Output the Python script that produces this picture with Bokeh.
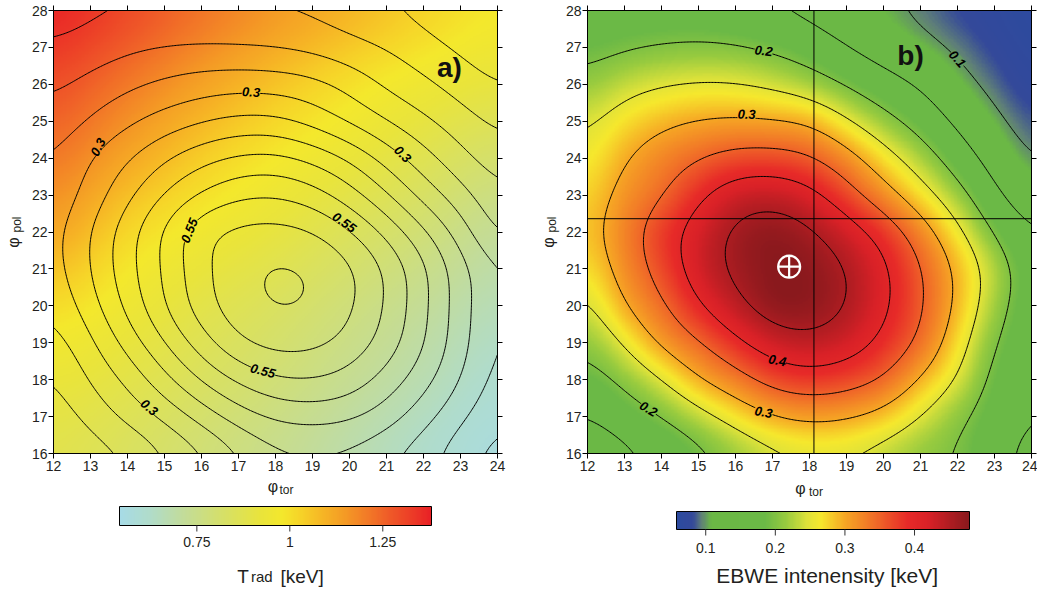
import numpy as np
from bokeh.plotting import figure
from bokeh.models import LinearColorMapper, Label, Span, LinearAxis, FixedTicker, Range1d
from bokeh.core.properties import value
from bokeh.layouts import row, column
from bokeh.embed import file_html
from bokeh.resources import INLINE

# ------------------------------------------------------------------ data
# node coordinates of the value grids (rows are listed from top y=28 to bottom y=16)
GRID_X = [12, 13, 14, 15, 16, 17, 18, 19, 20, 21, 22, 23, 24]
GRID_Y = [28, 27, 26, 25, 24, 23, 22, 21, 20, 19, 18, 17, 16]

# panel a) colour field: T_rad [keV] (coarse 2-unit grid)
TRAD_X = [12, 14, 16, 18, 20, 22, 24]
TRAD_Y = [28, 26, 24, 22, 20, 18, 16]
TRAD = [
    [1.37, 1.30, 1.22, 1.15, 1.09, 1.03, 0.98],
    [1.29, 1.21, 1.13, 1.06, 1.00, 0.95, 0.91],
    [1.21, 1.12, 1.04, 0.98, 0.93, 0.87, 0.81],
    [1.12, 1.02, 0.96, 0.91, 0.85, 0.79, 0.72],
    [1.01, 0.95, 0.89, 0.84, 0.78, 0.72, 0.66],
    [0.93, 0.89, 0.84, 0.79, 0.73, 0.67, 0.61],
    [0.88, 0.84, 0.79, 0.74, 0.68, 0.62, 0.57],
]

# panel a) contour field (labelled 0.3 ... 0.55)
CONT_A = [
    [0.125, 0.140, 0.149, 0.151, 0.151, 0.149, 0.146, 0.140, 0.123, 0.103, 0.082, 0.055, 0.030],
    [0.157, 0.172, 0.190, 0.201, 0.205, 0.203, 0.198, 0.185, 0.165, 0.148, 0.120, 0.092, 0.066],
    [0.190, 0.215, 0.240, 0.260, 0.275, 0.282, 0.280, 0.268, 0.235, 0.190, 0.160, 0.128, 0.098],
    [0.220, 0.255, 0.290, 0.320, 0.345, 0.362, 0.360, 0.330, 0.290, 0.250, 0.210, 0.172, 0.138],
    [0.250, 0.300, 0.345, 0.395, 0.435, 0.460, 0.465, 0.440, 0.395, 0.330, 0.270, 0.215, 0.172],
    [0.265, 0.318, 0.388, 0.452, 0.505, 0.540, 0.546, 0.522, 0.472, 0.405, 0.330, 0.270, 0.210],
    [0.278, 0.352, 0.430, 0.510, 0.592, 0.615, 0.620, 0.605, 0.557, 0.488, 0.410, 0.327, 0.235],
    [0.275, 0.352, 0.432, 0.507, 0.585, 0.635, 0.658, 0.648, 0.612, 0.545, 0.462, 0.372, 0.297],
    [0.258, 0.330, 0.415, 0.500, 0.580, 0.632, 0.655, 0.648, 0.610, 0.545, 0.462, 0.372, 0.297],
    [0.225, 0.290, 0.370, 0.450, 0.528, 0.595, 0.620, 0.615, 0.585, 0.530, 0.455, 0.370, 0.292],
    [0.195, 0.255, 0.310, 0.385, 0.455, 0.510, 0.545, 0.550, 0.530, 0.480, 0.420, 0.350, 0.278],
    [0.172, 0.215, 0.265, 0.310, 0.370, 0.425, 0.460, 0.470, 0.460, 0.425, 0.370, 0.310, 0.260],
    [0.150, 0.175, 0.200, 0.248, 0.290, 0.345, 0.385, 0.392, 0.385, 0.358, 0.320, 0.270, 0.230],
]

# panel b) EBWE intensity [keV]
EBWE = [
    [0.165, 0.170, 0.172, 0.172, 0.163, 0.149, 0.138, 0.123, 0.106, 0.093, 0.080, 0.070, 0.062],
    [0.185, 0.195, 0.202, 0.205, 0.203, 0.193, 0.175, 0.150, 0.128, 0.110, 0.094, 0.078, 0.066],
    [0.213, 0.235, 0.247, 0.253, 0.251, 0.240, 0.222, 0.195, 0.168, 0.145, 0.112, 0.090, 0.072],
    [0.243, 0.270, 0.290, 0.302, 0.306, 0.303, 0.295, 0.255, 0.215, 0.180, 0.140, 0.107, 0.084],
    [0.260, 0.298, 0.325, 0.348, 0.366, 0.368, 0.356, 0.320, 0.270, 0.225, 0.175, 0.130, 0.097],
    [0.275, 0.315, 0.345, 0.392, 0.428, 0.435, 0.416, 0.370, 0.320, 0.270, 0.218, 0.158, 0.120],
    [0.282, 0.328, 0.378, 0.422, 0.460, 0.474, 0.458, 0.425, 0.383, 0.325, 0.262, 0.195, 0.150],
    [0.268, 0.320, 0.368, 0.425, 0.460, 0.479, 0.475, 0.451, 0.410, 0.353, 0.292, 0.228, 0.170],
    [0.240, 0.300, 0.342, 0.397, 0.440, 0.474, 0.474, 0.452, 0.410, 0.357, 0.292, 0.220, 0.168],
    [0.210, 0.255, 0.310, 0.346, 0.390, 0.428, 0.440, 0.425, 0.390, 0.342, 0.272, 0.200, 0.165],
    [0.180, 0.210, 0.248, 0.298, 0.330, 0.368, 0.382, 0.372, 0.348, 0.295, 0.248, 0.185, 0.158],
    [0.148, 0.175, 0.200, 0.233, 0.268, 0.298, 0.310, 0.304, 0.285, 0.248, 0.210, 0.175, 0.150],
    [0.120, 0.138, 0.162, 0.187, 0.215, 0.238, 0.250, 0.248, 0.232, 0.212, 0.197, 0.165, 0.135],
]

X_TICKS = [12, 13, 14, 15, 16, 17, 18, 19, 20, 21, 22, 23, 24]
Y_TICKS = [16, 17, 18, 19, 20, 21, 22, 23, 24, 25, 26, 27, 28]
LEVELS_A = [0.10, 0.15, 0.20, 0.25, 0.30, 0.35, 0.40, 0.45, 0.50, 0.55, 0.60, 0.65]
LEVELS_B = [0.10, 0.15, 0.20, 0.25, 0.30, 0.35, 0.40, 0.45]
TRAD_LOW, TRAD_HIGH = 0.542, 1.381
EBWE_LOW, EBWE_HIGH = 0.058, 0.479
TRAD_TICKS = [0.75, 1.0, 1.25]
EBWE_TICKS = [0.1, 0.2, 0.3, 0.4]
MAX_B = (17.45, 21.06)          # marked maximum of the EBWE intensity
CROSS_B = (18.12, 22.36)        # cross-hair lines in panel b

# ------------------------------------------------------------------ styles
FONT = "Liberation Sans"
TXT = "#231f20"
STOPS_A = [(0.542, "#a7dbe6"), (0.62, "#b0dccb"), (0.72, "#c4dc96"), (0.82, "#d6e068"),
           (0.92, "#e9e43c"), (0.98, "#f4e82c"), (1.03, "#f6d328"), (1.09, "#f6b525"),
           (1.15, "#f49a25"), (1.21, "#f27a27"), (1.27, "#ef5a28"), (1.33, "#ec3c27"),
           (1.381, "#e92126")]
STOPS_B = [(0.058, "#2c4a9f"), (0.080, "#34499a"), (0.093, "#5f7f78"), (0.107, "#6bb845"),
           (0.185, "#6bb946"), (0.215, "#98cb3f"), (0.245, "#dde23a"), (0.265, "#f6e82d"),
           (0.30, "#f6a724"), (0.345, "#f06a28"), (0.39, "#e72a28"), (0.42, "#d92127"),
           (0.479, "#8a191d")]


def build_palette(stops, n=256):
    vals = np.array([s[0] for s in stops])
    cols = np.array([[int(c[1:3], 16), int(c[3:5], 16), int(c[5:7], 16)] for _, c in stops], float)
    t = np.linspace(vals[0], vals[-1], n)
    rgb = np.stack([np.interp(t, vals, cols[:, k]) for k in range(3)], 1)
    return ["#%02x%02x%02x" % tuple(int(round(v)) for v in c) for c in rgb]


PAL_A = build_palette(STOPS_A)
PAL_B = build_palette(STOPS_B)

# smooth rendering of the value grids (Catmull-Rom + light blur)
NF = 301
XF = np.linspace(12, 24, NF)
YF = np.linspace(16, 28, NF)


def cr_matrix(n_src, pos):
    pos = np.asarray(pos, float)
    W = np.zeros((pos.size, n_src))
    i0 = np.clip(np.floor(pos).astype(int), 0, n_src - 2)
    f = pos - i0
    w = [(-f ** 3 + 2 * f ** 2 - f) / 2, (3 * f ** 3 - 5 * f ** 2 + 2) / 2,
         (-3 * f ** 3 + 4 * f ** 2 + f) / 2, (f ** 3 - f ** 2) / 2]
    r = np.arange(pos.size)
    for k in range(4):
        j = np.clip(i0 - 1 + k, 0, n_src - 1)
        np.add.at(W, (r, j), w[k])
    return W


def blur_matrix(n, sigma):
    B = np.zeros((n, n))
    rad = int(3 * sigma)
    offs = np.arange(-rad, rad + 1)
    k = np.exp(-0.5 * (offs / sigma) ** 2)
    k /= k.sum()
    for i in range(n):
        j = np.clip(i + offs, 0, n - 1)
        np.add.at(B[i], j, k)
    return B


BLUR_IMG = blur_matrix(NF, 8.0)
BLUR_CON = blur_matrix(NF, 12.0)


def smooth(grid_top_down, xs, ys, B):
    G = np.array(grid_top_down, float)[::-1]
    xs = np.array(xs, float)
    ys = np.array(ys, float)[::-1]
    px = (XF - xs[0]) / (xs[1] - xs[0])
    py = (YF - ys[0]) / (ys[1] - ys[0])
    Z = cr_matrix(len(ys), py) @ G @ cr_matrix(len(xs), px).T
    return B @ Z @ B.T


Z_TRAD = smooth(TRAD, TRAD_X, TRAD_Y, BLUR_IMG)
Z_CA = smooth(CONT_A, GRID_X, GRID_Y, BLUR_CON)
Z_EB = smooth(EBWE, GRID_X, GRID_Y, BLUR_IMG)
Z_EBC = smooth(EBWE, GRID_X, GRID_Y, BLUR_CON)


def color_at(Z, x, y, pal, low, high):
    i = int(round((x - 12) / 12 * (NF - 1)))
    j = int(round((y - 16) / 12 * (NF - 1)))
    v = Z[j, i]
    k = int(np.clip(round((v - low) / (high - low) * (len(pal) - 1)), 0, len(pal) - 1))
    return pal[k]


def style_axis(ax, ticks, show, standoff=2):
    ax.ticker = FixedTicker(ticks=ticks)
    ax.axis_line_color = "black"
    ax.major_tick_line_color = "black"
    ax.major_tick_out = 5
    ax.major_tick_in = 0
    ax.minor_tick_line_color = None
    ax.major_label_text_font = FONT
    if show:
        ax.major_label_text_color = TXT
        ax.major_label_text_font_size = "14px"
        ax.major_label_standoff = standoff
    else:
        ax.major_label_text_color = None
        ax.major_label_text_font_size = "1px"
        ax.major_label_standoff = 0


TOP_H = 476          # height of the row holding the two maps
FRAME_T, FRAME_B = 10, 453


def make_panel(width, bl, br, Zimg, pal, low, high, Zc, levels):
    p = figure(width=width, height=TOP_H, x_range=Range1d(12, 24), y_range=Range1d(16, 28),
               toolbar_location=None, output_backend="svg",
               min_border_left=bl, min_border_right=br, min_border_top=FRAME_T,
               min_border_bottom=TOP_H - FRAME_B)
    p.grid.visible = False
    p.outline_line_color = "black"
    p.outline_line_width = 1
    p.image(image=[Zimg], x=12, y=16, dw=12, dh=12,
            color_mapper=LinearColorMapper(palette=pal, low=low, high=high))
    p.contour(XF, YF, Zc, levels, line_color="black", line_width=1)
    style_axis(p.xaxis[0], X_TICKS, True, 2)
    style_axis(p.yaxis[0], Y_TICKS, True, 1)
    top = LinearAxis()
    style_axis(top, X_TICKS, False)
    rgt = LinearAxis()
    style_axis(rgt, Y_TICKS, False)
    p.add_layout(top, "above")
    p.add_layout(rgt, "right")
    return p


def side_strip(x0, width):
    """narrow figure left of a map; its data coordinates are page pixels"""
    s = figure(width=width, height=TOP_H, x_range=Range1d(x0, x0 + width),
               y_range=Range1d(FRAME_B, FRAME_T), toolbar_location=None, output_backend="svg",
               min_border_left=0, min_border_right=0, min_border_top=FRAME_T,
               min_border_bottom=TOP_H - FRAME_B)
    s.axis.visible = False
    s.grid.visible = False
    s.outline_line_color = None
    return s


def label(fig, x, y, t, size, angle=0, align="center", baseline="middle", style="normal"):
    fig.add_layout(Label(x=x, y=y, text=t, angle=angle, angle_units="deg", text_align=align,
                         text_baseline=baseline, text_font=FONT, text_font_size=size,
                         text_font_style=style, text_color=TXT))


def add_level_labels(p, items, Zbg, pal, low, high):
    for x, y, txt, ang in items:
        p.add_layout(Label(x=x, y=y, text=txt, angle=ang, angle_units="deg", text_align="center",
                           text_baseline="middle", text_font=FONT, text_font_size="13px",
                           text_font_style="bold italic", text_color="black",
                           background_fill_color=color_at(Zbg, x, y, pal, low, high)))


# ------------------------------------------------------------------ panel a
pa = make_panel(482, 24, 13, Z_TRAD, PAL_A, TRAD_LOW, TRAD_HIGH, Z_CA, LEVELS_A)
add_level_labels(pa, [(13.2, 24.3, "0.3", 62), (17.34, 25.79, "0.3", -3), (21.44, 24.11, "0.3", -45),
                      (14.59, 17.25, "0.3", -40), (15.67, 22.04, "0.55", 68),
                      (19.86, 22.26, "0.55", -35), (17.66, 18.24, "0.55", -15)],
                 Z_TRAD, PAL_A, TRAD_LOW, TRAD_HIGH)
pa.add_layout(Label(x=22.70, y=26.45, text="a)", text_align="center", text_baseline="middle",
                    text_font=FONT, text_font_size="28px", text_font_style="bold", text_color="#111111"))

# ------------------------------------------------------------------ panel b
pb = make_panel(477, 27, 6, Z_EB, PAL_B, EBWE_LOW, EBWE_HIGH, Z_EBC, LEVELS_B)
pb.add_layout(Span(location=CROSS_B[0], dimension="height", line_color="black", line_width=1))
pb.add_layout(Span(location=CROSS_B[1], dimension="width", line_color="black", line_width=1))
add_level_labels(pb, [(16.76, 26.91, "0.2", -6), (16.30, 25.19, "0.3", -2), (22.0, 26.69, "0.1", -48),
                      (17.13, 18.52, "0.4", -10), (16.76, 17.12, "0.3", -10), (13.65, 17.21, "0.2", -30)],
                 Z_EB, PAL_B, EBWE_LOW, EBWE_HIGH)
pb.scatter(x=[MAX_B[0]], y=[MAX_B[1]], marker="circle_cross", size=22, fill_alpha=0,
           line_color="white", line_width=2.2)
pb.add_layout(Label(x=20.73, y=26.77, text="b)", text_align="center", text_baseline="middle",
                    text_font=FONT, text_font_size="28px", text_font_style="bold", text_color="#111111"))

# vertical axis names
la = side_strip(0, 28)
label(la, 13, 242, "φ", "16px", angle=90)
label(la, 16.5, 224, "pol", "12px", angle=90)
lb = side_strip(510, 50)
label(lb, 548, 242, "φ", "16px", angle=90)
label(lb, 551.5, 224, "pol", "12px", angle=90)


# ------------------------------------------------------------------ bottom strips: axis name, colour bar, title
BOT_H = 590 - TOP_H


def bottom_strip(x0, width, bar_l, bar_r, bar_t, bar_b, low, high, pal, ticks, lab_top):
    ppv = (bar_r - bar_l) / (high - low)
    xs = low - (bar_l - x0) / ppv
    s = figure(width=width, height=BOT_H, x_range=Range1d(xs, xs + width / ppv),
               y_range=Range1d(590, TOP_H), toolbar_location=None, output_backend="svg",
               min_border_left=0, min_border_right=0, min_border_top=0, min_border_bottom=0)
    s.axis.visible = False
    s.grid.visible = False
    s.outline_line_color = None
    grad = np.linspace(low, high, 600).reshape(1, -1)
    s.image(image=[grad], x=low, y=bar_t, dw=high - low, dh=bar_b - bar_t,
            color_mapper=LinearColorMapper(palette=pal, low=low, high=high))
    s.quad(left=[low], right=[high], top=[bar_t], bottom=[bar_b], fill_color=None,
           line_color="black", line_width=1)
    s.segment(x0=ticks, y0=[bar_b] * len(ticks), x1=ticks, y1=[bar_b + 6] * len(ticks),
              line_color="#333333", line_width=1)
    s.text(x=ticks, y=[lab_top] * len(ticks), text=["%g" % t for t in ticks],
           text_font=value(FONT), text_font_size="14px", text_color=TXT,
           text_align="center", text_baseline="top")
    return s, (lambda px: xs + (px - x0) / ppv)


ba, cva = bottom_strip(0, 510, 119, 431, 506, 525, TRAD_LOW, TRAD_HIGH, PAL_A, TRAD_TICKS, 536)
label(ba, cva(272.5), 477, "φ", "16px", baseline="top")
label(ba, cva(286), 482, "tor", "12px", baseline="top")
label(ba, cva(236.7), 576, "T", "19px", align="left", baseline="alphabetic")
label(ba, cva(250.5), 576, "rad", "15px", align="left", baseline="alphabetic")
label(ba, cva(280), 576, "[keV]", "19px", align="left", baseline="alphabetic")

bb, cvb = bottom_strip(510, 527, 676, 969, 511, 529, EBWE_LOW, EBWE_HIGH, PAL_B, EBWE_TICKS, 542)
label(bb, cvb(800), 479, "φ", "16px", baseline="top")
label(bb, cvb(815.5), 484, "tor", "12px", baseline="top")
label(bb, cvb(826.7), 575, "EBWE intenensity [keV]", "21px", baseline="alphabetic")

layout = column(row(la, pa, lb, pb), row(ba, bb))
open("out.html", "w").write(file_html(layout, INLINE, title="T_rad and EBWE intensity maps"))
